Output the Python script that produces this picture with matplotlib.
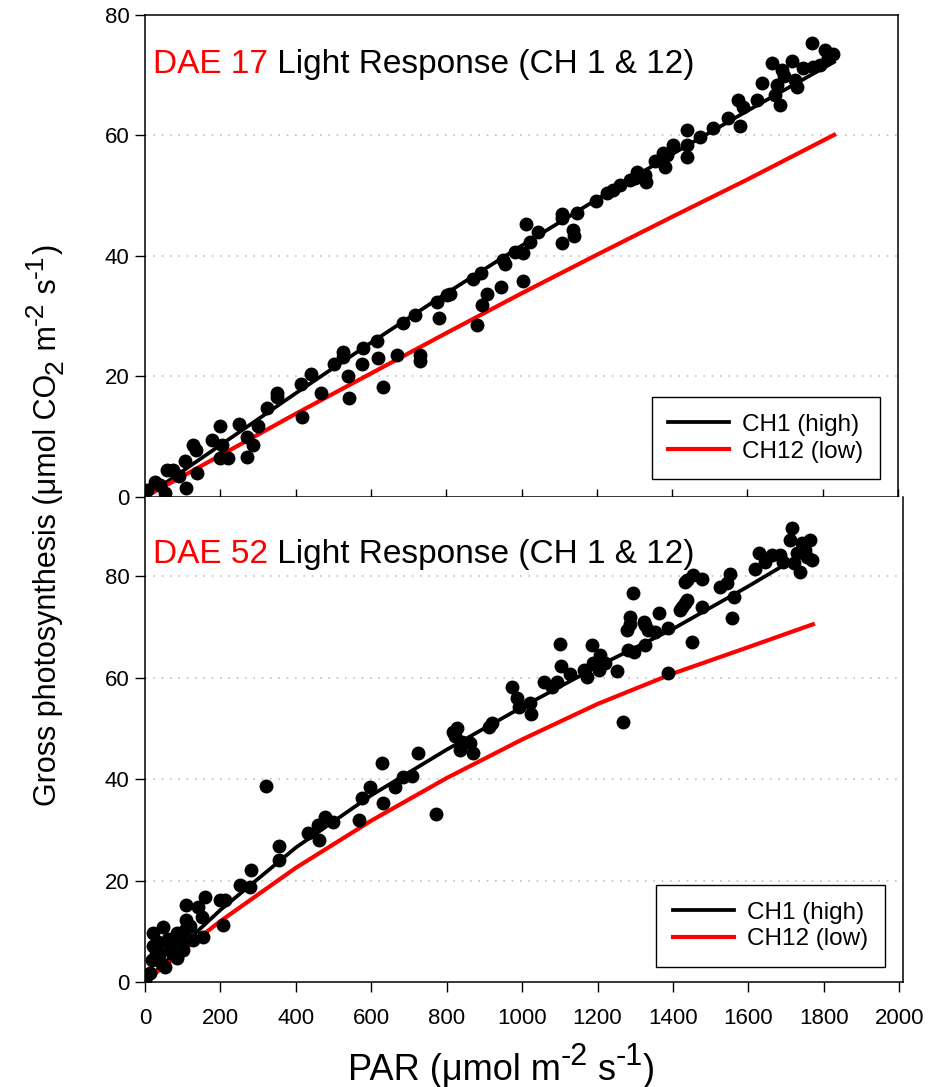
import numpy as np
import matplotlib
matplotlib.use('Agg')
import matplotlib.pyplot as plt

plt.rcParams['font.family'] = ['Liberation Sans', 'DejaVu Sans']

# DAE 17 measurements (PAR, gross photosynthesis)
par17 = [5, 27, 40, 53, 58, 75, 90, 106, 109, 128, 135, 138, 177, 199, 204, 199, 221, 250,
         270, 270, 287, 301, 323, 350, 350, 414, 416, 441, 467, 502, 526, 526, 539, 542,
         580, 575, 615, 620, 631, 668, 686, 717, 730, 730, 775, 781, 801, 810, 870, 893,
         882, 894, 907, 945, 951, 955, 983, 1004, 1004, 1012, 1023, 1044, 1107, 1107,
         1107, 1136, 1140, 1147, 1198, 1226, 1244, 1262, 1288, 1306, 1301, 1331, 1328,
         1355, 1376, 1381, 1385, 1403, 1439, 1439, 1439, 1474, 1509, 1549, 1580, 1575,
         1588, 1625, 1638, 1664, 1673, 1687, 1678, 1691, 1696, 1718, 1726, 1731, 1748,
         1771, 1775, 1793, 1806, 1814, 1828]
gp17 = [1.2, 2.5, 2.0, 0.6, 4.5, 4.5, 3.5, 5.9, 1.5, 8.6, 7.8, 4.0, 9.5, 11.7, 8.6, 6.5, 6.5,
        12.1, 10.0, 6.7, 8.6, 11.7, 14.8, 17.2, 16.6, 18.8, 13.3, 20.4, 17.2, 22.1, 24.1,
        23.3, 20.0, 16.4, 24.7, 22.1, 25.9, 23.1, 18.2, 23.6, 28.9, 30.2, 22.5, 23.6, 32.4,
        29.7, 33.5, 33.7, 36.2, 37.2, 28.5, 31.9, 33.7, 34.9, 39.3, 38.7, 40.7, 40.5, 35.8,
        45.3, 42.4, 43.9, 47.0, 46.3, 42.2, 44.3, 43.3, 47.1, 49.1, 50.4, 50.9, 51.8, 52.6,
        54.0, 52.9, 52.3, 53.4, 55.7, 57.1, 54.8, 56.8, 58.4, 60.9, 56.5, 58.4, 59.8, 61.2,
        62.9, 61.5, 65.9, 64.8, 65.9, 68.7, 72.0, 66.7, 65.1, 68.3, 70.9, 69.8, 72.3, 69.2,
        68.1, 71.2, 75.3, 71.4, 71.7, 74.2, 72.8, 73.6]

# DAE 17 fitted curves
fit17_par = [0, 200, 400, 600, 800, 1000, 1200, 1400, 1600, 1830]
fit17_ch1 = [0, 8.6, 17.2, 25.6, 33.8, 41.7, 49.4, 56.9, 64.1, 72.2]
fit17_ch12 = [0, 6.9, 13.8, 20.5, 27.2, 33.8, 40.2, 46.5, 52.7, 60.1]

# DAE 52 measurements
par52 = [0, 13, 18, 22, 22, 30, 35, 40, 45, 49, 53, 60, 66, 75, 84, 84, 95, 101, 106, 110,
         110, 120, 128, 141, 150, 154, 159, 199, 212, 207, 252, 278, 281, 321, 354, 354,
         433, 459, 462, 477, 499, 568, 575, 597, 631, 628, 663, 685, 707, 724, 772, 817,
         827, 822, 840, 836, 862, 871, 913, 920, 973, 986, 993, 1021, 1023, 1057, 1079,
         1092, 1101, 1103, 1127, 1163, 1172, 1185, 1189, 1203, 1207, 1221, 1251, 1267,
         1278, 1286, 1286, 1282, 1293, 1296, 1322, 1326, 1326, 1335, 1353, 1362, 1388,
         1388, 1419, 1424, 1432, 1437, 1450, 1432, 1437, 1454, 1477, 1477, 1525, 1543,
         1552, 1561, 1556, 1618, 1627, 1645, 1662, 1684, 1693, 1715, 1711, 1729, 1720,
         1737, 1751, 1764, 1768, 1755, 1742]
gp52 = [0.4, 1.7, 4.3, 7.0, 9.6, 5.5, 7.9, 5.7, 3.5, 10.9, 3.0, 8.5, 7.0, 5.5, 9.6, 4.7, 8.0,
        6.3, 10.2, 12.2, 15.2, 11.0, 8.3, 14.8, 12.9, 8.9, 16.8, 16.2, 16.2, 11.2, 19.1,
        18.8, 22.1, 38.6, 24.0, 26.8, 29.3, 30.9, 28.0, 32.6, 31.6, 31.9, 36.2, 38.5, 35.3,
        43.1, 38.5, 40.5, 40.6, 45.2, 33.1, 49.3, 50.0, 48.5, 47.3, 45.7, 47.2, 45.2, 50.3,
        51.0, 58.2, 55.9, 54.2, 54.9, 52.9, 59.2, 58.2, 59.2, 66.7, 62.3, 60.8, 61.5, 60.2,
        66.4, 62.8, 61.5, 64.4, 62.8, 61.3, 51.2, 69.4, 72.0, 70.6, 65.4, 76.7, 65.0, 71.0,
        70.3, 66.4, 69.3, 69.0, 72.8, 69.7, 60.9, 73.3, 74.0, 74.7, 75.3, 67.0, 78.9, 79.2,
        80.2, 79.5, 74.0, 77.9, 78.6, 80.5, 75.9, 71.8, 81.5, 84.5, 82.8, 84.1, 84.1, 82.8,
        89.4, 87.1, 84.5, 82.5, 80.8, 85.1, 87.1, 83.2, 83.8, 86.5]

# DAE 52 fitted curves
fit52_par = [0, 100, 200, 400, 600, 800, 1000, 1200, 1400, 1600, 1720]
fit52_ch1 = [0, 7.3, 14.2, 26.5, 36.8, 45.8, 54.2, 62.2, 69.6, 78.0, 83.3]
fit52_ch12_par = [0, 100, 200, 400, 600, 800, 1000, 1200, 1400, 1600, 1771]
fit52_ch12 = [0, 6.2, 12.0, 22.5, 31.8, 40.2, 47.8, 54.8, 60.8, 66.0, 70.5]

xticks = np.arange(0, 2001, 200)
yticks = np.arange(0, 81, 20)

W, H = 929, 1087
fig = plt.figure(figsize=(W / 100, H / 100), dpi=100)
ax1 = fig.add_axes([0.1561, 0.5428, 0.8106, 0.4434])
ax2 = fig.add_axes([0.1561, 0.0966, 0.8159, 0.4462])

panels = [
    (ax1, par17, gp17, fit17_par, fit17_ch1, fit17_par, fit17_ch12, 'DAE 17', 80, 2000, 0.866, 0.037),
    (ax2, par52, gp52, fit52_par, fit52_ch1, fit52_ch12_par, fit52_ch12, 'DAE 52', 95.6, 2010, 0.849, 0.031),
]

for ax, px, py, fx1, fy1, fx2, fy2, label, ytop, xright, ytitle, yleg in panels:
    for y in yticks[1:]:
        if y < ytop - 1:
            ax.axhline(y, color='#c0c0c0', lw=1.2, ls=(0, (1, 4)), zorder=1)
    ax.plot(fx1, fy1, color='black', lw=2.7, label='CH1 (high)', zorder=2)
    ax.plot(fx2, fy2, color='#ff0000', lw=3.0, label='CH12 (low)', zorder=2)
    ax.plot(px, py, 'o', color='black', ms=9, mec='black', zorder=3)
    ax.set_xlim(0, xright)
    ax.set_ylim(0, ytop)
    ax.set_xticks(xticks)
    ax.set_yticks(yticks)
    ax.tick_params(axis='y', direction='out', length=7, width=1, labelsize=16, pad=4)
    for s in ax.spines.values():
        s.set_linewidth(1.1)

    leg = ax.legend(loc='lower right', bbox_to_anchor=(0.976, yleg), fontsize=17.5,
                    frameon=True, fancybox=False, edgecolor='black', framealpha=1,
                    handlelength=2.5, handletextpad=0.55, borderpad=0.68, labelspacing=0.2,
                    borderaxespad=0)
    leg.get_frame().set_linewidth(1.0)

    t = ax.text(0.011, ytitle, label, color='#ff0000', fontsize=24, transform=ax.transAxes,
                va='bottom', ha='left')
    ax.annotate(' Light Response (CH 1 & 12)', xy=(1, 0), xycoords=t, fontsize=24,
                color='black', va='bottom', ha='left')

ax1.tick_params(axis='x', direction='inout', length=12, width=1, labelbottom=False)
ax2.tick_params(axis='x', direction='out', length=7, width=1, labelsize=16, pad=12)
ax2.spines['top'].set_visible(False)

renderer = fig.canvas.get_renderer()


def unit_label(pieces, x0, y0, vertical):
    # lay out text pieces one after another along the baseline (pixels)
    pos = 0.0
    for txt, size, shift in pieces:
        if vertical:
            xy = ((x0 - shift) / W, (y0 + pos) / H)
        else:
            xy = ((x0 + pos) / W, (y0 + shift) / H)
        t = fig.text(xy[0], xy[1], txt, fontsize=size, ha='left', va='baseline',
                     rotation=90 if vertical else 0, rotation_mode='anchor')
        bb = t.get_window_extent(renderer)
        pos += bb.height if vertical else bb.width


unit_label([('Gross photosynthesis (μmol CO', 22, 0), ('2', 19, -7), (' m', 22, 0),
            ('-2', 19, 13), (' s', 22, 0), ('-1', 19, 13), (')', 22, 0)],
           56, H - 806, True)
unit_label([('PAR (μmol m', 26, 0), ('-2', 22, 15), (' s', 26, 0), ('-1', 22, 15),
            (')', 26, 0)], 348, 7, False)

fig.savefig('out.png', dpi=100)
